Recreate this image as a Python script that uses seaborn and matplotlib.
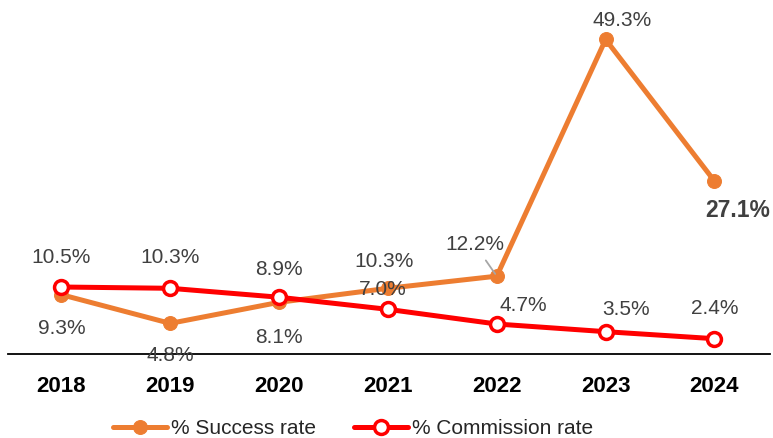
import matplotlib.pyplot as plt
import pandas as pd
import seaborn as sns

years = ["2018", "2019", "2020", "2021", "2022", "2023", "2024"]
success_rate = [9.3, 4.8, 8.1, 10.3, 12.2, 49.3, 27.1]
commission_rate = [10.5, 10.3, 8.9, 7.0, 4.7, 3.5, 2.4]

# label offsets in points (dx, dy)
success_offsets = [(0, -24), (0, -23), (0, -25), (-3, 19), (-16, 23), (12, 14), (17, -21)]
commission_offsets = [(0, 21), (0, 22), (0, 20), (-4, 14), (19, 13), (15, 16), (0, 22)]

sns.set_style("white")
plt.rcParams["font.family"] = ["Liberation Sans", "DejaVu Sans"]

df = pd.DataFrame({"year": range(len(years)), "success": success_rate, "commission": commission_rate})

fig = plt.figure(figsize=(7.73, 4.38), dpi=100)
ax = fig.add_axes([8 / 773, 84 / 438, 762 / 773, 344.5 / 438])

sns.lineplot(data=df, x="year", y="success", ax=ax, color="#ED7D31", linewidth=3.6,
             marker="o", markersize=10, markeredgecolor="#ED7D31", label="% Success rate")
sns.lineplot(data=df, x="year", y="commission", ax=ax, color="#FF0000", linewidth=3.6,
             marker="o", markersize=10, markerfacecolor="white", markeredgecolor="#FF0000",
             markeredgewidth=2.5, label="% Commission rate")

for i, v in enumerate(success_rate):
    dx, dy = success_offsets[i]
    kw = {}
    if i == 4:
        kw["arrowprops"] = dict(arrowstyle="-", color="#A6A6A6", lw=1.3, shrinkA=3, shrinkB=2)
    ax.annotate(f"{v:.1f}%", (i, v), xytext=(dx, dy), textcoords="offset points",
                ha="center", va="center", fontsize=16.5 if i == 6 else 15, color="#404040",
                fontweight="bold" if i == 6 else "normal", **kw)
for i, v in enumerate(commission_rate):
    dx, dy = commission_offsets[i]
    ax.annotate(f"{v:.1f}%", (i, v), xytext=(dx, dy), textcoords="offset points",
                ha="center", va="center", fontsize=15, color="#404040")

ax.set_xlim(-0.49, 6.51)
ax.set_ylim(0, 54)
ax.set_xticks(range(len(years)))
ax.set_xticklabels(years, fontsize=16, fontweight="bold", color="black")
ax.set_yticks([])
ax.set_xlabel("")
ax.set_ylabel("")
ax.tick_params(axis="x", length=0, pad=16)
for s in ["top", "right", "left"]:
    ax.spines[s].set_visible(False)
ax.spines["bottom"].set_color("black")
ax.spines["bottom"].set_linewidth(1.3)

ax.legend(loc="center", bbox_to_anchor=(0.457, 9 / 438), bbox_transform=fig.transFigure,
          ncol=2, frameon=False, fontsize=15, handlelength=2.6, handletextpad=0.2,
          columnspacing=1.8)

fig.savefig("out.png", dpi=100)
